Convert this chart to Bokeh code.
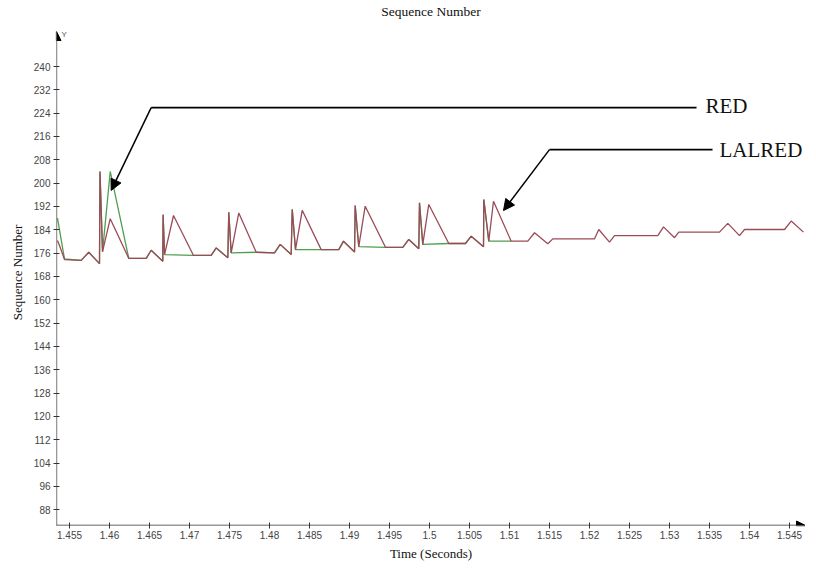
from bokeh.plotting import figure
from bokeh.models import Range1d, FixedTicker, Arrow, NormalHead, Label, Spacer
from bokeh.layouts import row
from bokeh.embed import file_html
from bokeh.resources import INLINE

# ---- data (time in seconds, sequence number) ----
red_t = [1.4535, 1.45375, 1.454375, 1.45646, 1.45741, 1.45875, 1.45881, 1.45913, 1.46009, 1.46241,
         1.46459, 1.46521, 1.46666, 1.4667, 1.46688, 1.4680, 1.4705, 1.47271, 1.47334, 1.47479,
         1.47491, 1.47521, 1.47616, 1.47834, 1.48063, 1.48134, 1.48271, 1.48284, 1.48325, 1.48409,
         1.48646, 1.48866, 1.48925, 1.49063, 1.49071, 1.49116, 1.49196, 1.4945, 1.49666, 1.49741,
         1.49866, 1.49875, 1.49916, 1.49991, 1.50241, 1.5045, 1.50521, 1.50675, 1.50679, 1.50741,
         1.508, 1.51021, 1.51229, 1.51313, 1.51479, 1.51541, 1.52063, 1.52116, 1.5225, 1.52313,
         1.52854, 1.52925, 1.53063, 1.53116, 1.53625, 1.53729, 1.53875, 1.53938, 1.54438, 1.54521,
         1.54675]
red_seq = [180.3, 178.6, 173.8, 173.5, 176.3, 172.4, 204.0, 176.5, 187.8, 174.2,
           174.2, 177.0, 173.2, 189.2, 175.5, 188.9, 175.2, 175.2, 177.8, 174.4,
           190.0, 176.1, 189.8, 176.3, 176.1, 179.0, 175.5, 191.0, 177.2, 190.7,
           177.2, 177.2, 180.1, 176.4, 192.3, 178.2, 192.1, 178.0, 178.0, 180.7,
           177.5, 193.3, 179.0, 192.7, 179.3, 179.3, 181.8, 178.2, 194.4, 180.1,
           193.8, 180.1, 180.1, 183.0, 179.2, 180.9, 180.9, 184.1, 179.8, 182.0,
           182.0, 185.0, 181.3, 183.2, 183.2, 186.2, 182.0, 184.1, 184.1, 187.0,
           183.2]

green_t = [1.4535, 1.454375, 1.45646, 1.45741, 1.45875, 1.45881, 1.45913, 1.46009, 1.46241,
           1.46459, 1.46521, 1.46666, 1.4667, 1.46688, 1.4705, 1.47271, 1.47334, 1.47479,
           1.47491, 1.47521, 1.47834, 1.48063, 1.48134, 1.48271, 1.48284, 1.48325, 1.48646,
           1.48866, 1.48925, 1.49063, 1.49071, 1.49116, 1.4945, 1.49666, 1.49741, 1.49866,
           1.49875, 1.49916, 1.50241, 1.5045, 1.50521, 1.50675, 1.50679, 1.50741, 1.51021]
green_seq = [188.0, 174.0, 173.5, 176.3, 172.4, 204.0, 176.5, 204.0, 174.2,
             174.2, 177.0, 173.2, 189.2, 175.5, 175.2, 175.2, 177.8, 174.4,
             190.0, 176.1, 176.3, 176.1, 179.0, 175.5, 191.0, 177.2, 177.2,
             177.2, 180.1, 176.4, 192.3, 178.2, 178.0, 178.0, 180.7, 177.5,
             193.3, 179.0, 179.3, 179.3, 181.8, 178.2, 194.4, 180.1, 180.1]

x_ticks = [1.455, 1.46, 1.465, 1.47, 1.475, 1.48, 1.485, 1.49, 1.495, 1.5,
           1.505, 1.51, 1.515, 1.52, 1.525, 1.53, 1.535, 1.54, 1.545]
x_tick_labels = ["1.455", "1.46", "1.465", "1.47", "1.475", "1.48", "1.485", "1.49", "1.495", "1.5",
                 "1.505", "1.51", "1.515", "1.52", "1.525", "1.53", "1.535", "1.54", "1.545"]
y_ticks = list(range(88, 241, 8))

# annotation anchors (data coordinates)
RED_LINE = dict(x0=1.46521, x1=1.53338, y=225.9, tip_x=1.46021, tip_y=197.5, text_x=1.5345, text_y=226.3)
LALRED_LINE = dict(x0=1.5150, x1=1.53538, y=211.5, tip_x=1.50925, tip_y=190.6, text_x=1.53625, text_y=211.2)

X0, X1 = 1.453375, 1.547
Y0, Y1 = 82.6, 256.12
Y_ARROW = 252.0

SERIF = "Liberation Serif"
SANS = "Liberation Sans"

p = figure(frame_width=749, frame_height=506, output_backend="svg", toolbar_location=None,
           x_range=Range1d(X0, X1), y_range=Range1d(Y0, Y1),
           min_border_left=0, min_border_right=0, min_border_top=0, min_border_bottom=0,
           title="Sequence Number")
p.outline_line_color = None
p.grid.visible = False
p.background_fill_color = "white"
p.border_fill_color = "white"

p.title.align = "center"
p.title.text_font = SERIF
p.title.text_font_size = "13.5px"
p.title.text_font_style = "normal"
p.title.text_color = "#111111"
p.title.standoff = 2

for ax in (p.xaxis[0], p.yaxis[0]):
    ax.axis_line_color = None
    ax.major_tick_line_color = "#333333"
    ax.major_tick_in = 3
    ax.major_tick_out = 3
    ax.minor_tick_line_color = None
    ax.major_label_text_font = SANS
    ax.major_label_text_font_size = "10px"
    ax.major_label_text_color = "#444444"
    ax.axis_label_text_font = SERIF
    ax.axis_label_text_font_size = "13px"
    ax.axis_label_text_font_style = "normal"
    ax.axis_label_text_color = "#111111"

p.xaxis.ticker = FixedTicker(ticks=x_ticks)
p.xaxis.major_label_overrides = {t: l for t, l in zip(x_ticks, x_tick_labels)}
p.xaxis.axis_label = "Time (Seconds)"
p.xaxis.major_label_standoff = 2
p.xaxis.axis_label_standoff = 4

p.yaxis.ticker = FixedTicker(ticks=y_ticks)
p.yaxis.axis_label = "Sequence Number"
p.yaxis.major_label_standoff = 3
p.yaxis.axis_label_standoff = 6

# series
p.line(green_t, green_seq, line_color="#4f9f4f", line_width=1.3)
p.line(red_t, red_seq, line_color="#9c4a58", line_width=1.3)

# axis lines with arrowheads
p.add_layout(Arrow(end=NormalHead(size=9, fill_color="black", line_color="black"),
                   x_start=X0, y_start=Y0 - 4.8, x_end=X0, y_end=Y_ARROW, line_color="#333333", line_width=1.3))
p.add_layout(Arrow(end=NormalHead(size=9, fill_color="black", line_color="black"),
                   x_start=X0 - 0.0015, y_start=Y0, x_end=X1, y_end=Y0, line_color="#333333", line_width=1.3))
p.add_layout(Label(x=X0, y=Y_ARROW - 1, text="Y", x_offset=5, text_font=SANS, text_font_size="8px",
                   text_color="#555555", text_baseline="middle"))

# callouts
for c, txt in ((RED_LINE, "RED"), (LALRED_LINE, "LALRED")):
    p.segment(x0=[c["x0"]], y0=[c["y"]], x1=[c["x1"]], y1=[c["y"]], line_color="black", line_width=1.6)
    p.add_layout(Arrow(end=NormalHead(size=11, fill_color="black", line_color="black"),
                       x_start=c["x0"], y_start=c["y"], x_end=c["tip_x"], y_end=c["tip_y"],
                       line_color="black", line_width=1.5))
    p.add_layout(Label(x=c["text_x"], y=c["text_y"], text=txt, text_font=SERIF, text_font_size="21px",
                       text_color="#111111", text_baseline="middle", text_align="left"))

layout = row(Spacer(width=6, height=10), p)
open("out.html", "w").write(file_html(layout, INLINE))
